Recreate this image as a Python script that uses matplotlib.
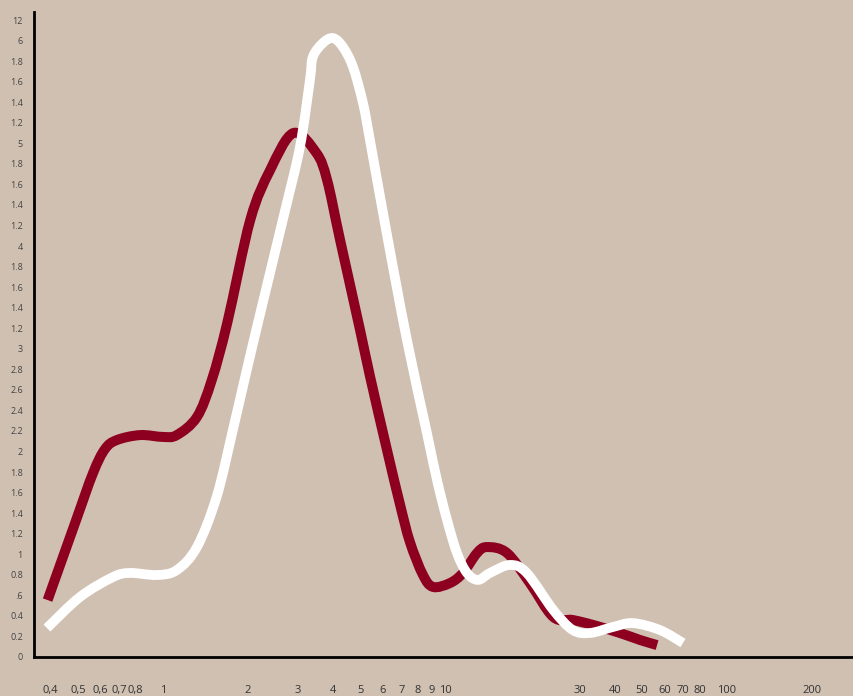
import matplotlib
matplotlib.use("Agg")
import matplotlib.pyplot as plt
import numpy as np
from matplotlib.path import Path
from matplotlib.patches import PathPatch

# colours
BG = '#cfc0b2'
RED = '#8e001f'

# y axis: evenly spaced ticks with these labels (bottom to top)
y_labels = ['0', '0.2', '0.4', '.6', '0.8', '1', '1.2', '1.4', '1.6', '1.8',
            '2', '2.2', '2.4', '2.6', '2.8', '3', '1.2', '1.4', '1.6', '1.8',
            '4', '1.2', '1.4', '1.6', '1.8', '5', '1.2', '1.4', '1.6', '1.8',
            '6', '12']

# x axis (log) ticks
x_ticks = [0.4, 0.5, 0.6, 0.7, 0.8, 1, 2, 3, 4, 5, 6, 7, 8, 9, 10,
           30, 40, 50, 60, 70, 80, 100, 200]
x_labels = ['0,4', '0,5', '0,6', '0,7', '0,8', '1', '2', '3', '4', '5', '6',
            '7', '8', '9', '10', '30', '40', '50', '60', '70', '80', '100', '200']

# red series (y in tick-step units)
red_x = [0.39, 0.488, 0.565, 0.623, 0.687, 0.83, 1.0, 1.12, 1.32, 1.49, 1.69,
         2.04, 2.4, 2.9, 3.5, 3.82, 4.24, 5.0, 5.42, 6.23, 6.92, 7.51,
         8.35, 9.07, 10.42, 11.58, 12.99, 14.09, 16.6, 20.0, 24.2, 28.4, 33.5,
         41.7, 49.1, 56.5]
red_y = [2.77, 6.52, 8.95, 10.12, 10.56, 10.8, 10.71, 10.8, 11.68, 13.48, 16.25,
         21.27, 23.7, 25.5, 24.53, 23.21, 20.34, 15.91, 13.67, 10.07, 7.45, 5.6,
         4.0, 3.41, 3.6, 4.09, 5.06, 5.35, 5.06, 3.6, 1.95, 1.8, 1.56,
         1.17, 0.83, 0.58]

# white series
white_x = [0.388, 0.508, 0.665, 0.764, 0.952, 1.12, 1.32, 1.55, 1.77, 1.92,
           2.15, 2.67, 3.06, 3.32, 3.4, 3.69, 4.01, 4.35, 4.72, 5.12, 5.42,
           6.23, 7.33, 8.63, 9.37, 10.17, 11.03, 11.97, 13.1, 14.44, 17.0,
           19.5, 24.2, 28.4, 32.7, 39.4, 46.4, 57.9, 69.8]
white_y = [1.41, 2.92, 3.89, 4.09, 3.99, 4.23, 5.35, 7.79, 11.05, 13.14,
           16.01, 21.36, 24.82, 28.08, 29.2, 29.88, 30.12, 29.68, 28.71, 26.96, 25.16,
           20.54, 15.43, 10.9, 8.61, 6.67, 5.06, 4.09, 3.75, 4.09, 4.48,
           4.09, 2.29, 1.31, 1.17, 1.46, 1.65, 1.31, 0.68]


def smooth_path(xs, ys):
    # catmull-rom through the points, worked out in log-x space,
    # turned into cubic bezier segments so the line goes through every point
    lx = np.log10(xs)
    ys = np.asarray(ys, dtype=float)
    pts = np.column_stack([lx, ys])
    n = len(pts)
    verts = [pts[0]]
    codes = [Path.MOVETO]
    for i in range(n - 1):
        p0 = pts[max(i - 1, 0)]
        p1 = pts[i]
        p2 = pts[i + 1]
        p3 = pts[min(i + 2, n - 1)]
        c1 = p1 + (p2 - p0) / 6.0
        c2 = p2 - (p3 - p1) / 6.0
        verts += [c1, c2, p2]
        codes += [Path.CURVE4] * 3
    verts = np.array(verts)
    verts[:, 0] = 10 ** verts[:, 0]
    return Path(verts, codes)


plt.rcParams['font.family'] = ['Open Sans', 'DejaVu Sans']

fig = plt.figure(figsize=(8.54, 6.96), dpi=100, facecolor=BG)
ax = fig.add_axes([34 / 854, 39 / 696, 820 / 854, 645 / 696], facecolor=BG)

ax.set_xscale('log')
ax.set_xlim(0.349, 282)
ax.set_ylim(0, 31.39)

ax.add_patch(PathPatch(smooth_path(red_x, red_y), facecolor='none',
                       edgecolor=RED, lw=7.2, capstyle='butt',
                       joinstyle='round'))
ax.add_patch(PathPatch(smooth_path(white_x, white_y), facecolor='none',
                       edgecolor='white', lw=7.0, capstyle='butt',
                       joinstyle='round'))

ax.set_xticks(x_ticks)
ax.set_xticklabels(x_labels)
ax.xaxis.set_minor_locator(matplotlib.ticker.NullLocator())
ax.set_yticks(range(len(y_labels)))
ax.set_yticklabels(y_labels)

ax.tick_params(axis='x', length=0, pad=20, labelsize=8, labelcolor='#333333')
ax.tick_params(axis='y', length=0, pad=8, labelsize=6.5, labelcolor='#444444')

for side in ['top', 'right']:
    ax.spines[side].set_visible(False)
for side in ['left', 'bottom']:
    ax.spines[side].set_linewidth(2)
    ax.spines[side].set_color('black')

fig.savefig('out.png', dpi=100, facecolor=BG)
